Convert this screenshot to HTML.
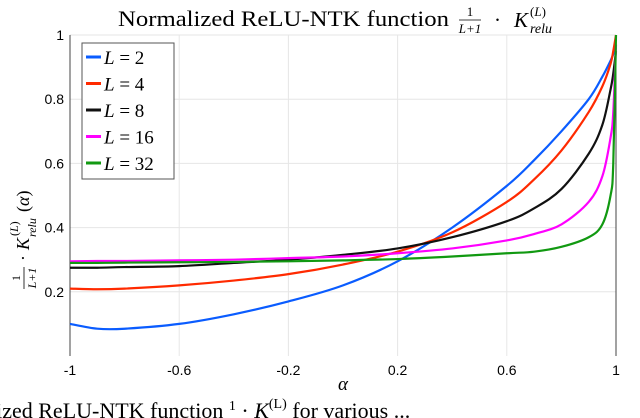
<!DOCTYPE html>
<html><head><meta charset="utf-8"><style>
body{margin:0;background:#fff;width:640px;height:418px;overflow:hidden}
svg{display:block;font-family:"Liberation Serif",serif}
</style></head><body>
<svg width="640" height="418" viewBox="0 0 640 418">
<text x="118" y="26" font-size="22" textLength="331" lengthAdjust="spacingAndGlyphs">Normalized ReLU-NTK function</text>
<g font-size="21">
<text x="470" y="16" text-anchor="middle" font-size="13">1</text>
<line x1="459" x2="481" y1="20" y2="20" stroke="#000" stroke-width="0.8"/>
<text x="470" y="33" text-anchor="middle" font-size="13" font-style="italic">L+1</text>
<text x="494" y="27">·</text>
<text x="514" y="27" font-style="italic">K</text>
<text x="530" y="16" font-size="13">(<tspan font-style="italic">L</tspan>)</text>
<text x="530" y="33" font-size="14" font-style="italic">relu</text>
</g>
<g id="grid"></g>
<g id="axes"></g>
<g id="series"></g>
<g id="legend"></g>
<text x="343" y="390" text-anchor="middle" font-size="19" font-style="italic">α</text>
<g transform="translate(24,196) rotate(-90)" font-size="18">
<text x="-82" y="-4" text-anchor="middle" font-size="12">1</text>
<line x1="-93" x2="-71" y1="0" y2="0" stroke="#000" stroke-width="0.8"/>
<text x="-82" y="12" text-anchor="middle" font-size="12" font-style="italic">L+1</text>
<text x="-65" y="5">·</text>
<text x="-54" y="5" font-style="italic">K</text>
<text x="-40" y="-6" font-size="12">(<tspan font-style="italic">L</tspan>)</text>
<text x="-41" y="12" font-size="12" font-style="italic">relu</text>
<text x="-16" y="5">(<tspan font-style="italic">α</tspan>)</text>
</g>
<text x="-10" y="418" font-size="22">lized ReLU-NTK function <tspan font-size="14" dy="-8">1</tspan><tspan dy="8">  ·  </tspan><tspan font-style="italic">K</tspan><tspan font-size="14" dy="-10">(L)</tspan><tspan dy="10">  for various ... </tspan></text>
</svg>
<script>
const alphas=[-1,-0.9,-0.8,-0.6,-0.4,-0.2,0,0.2,0.4,0.6,0.7,0.8,0.9,0.95,0.98,0.99,1];
const seriesL2=[0.10,0.085,0.085,0.10,0.13,0.17,0.22,0.295,0.40,0.53,0.61,0.70,0.80,0.87,0.92,0.94,0.96];
const seriesL4=[0.21,0.208,0.21,0.22,0.235,0.255,0.285,0.325,0.385,0.48,0.55,0.64,0.76,0.84,0.91,0.95,1.0];
const seriesL8=[0.275,0.275,0.277,0.28,0.29,0.30,0.315,0.335,0.37,0.42,0.46,0.52,0.63,0.72,0.83,0.88,0.95];
const seriesL16=[0.295,0.296,0.296,0.298,0.30,0.305,0.31,0.32,0.335,0.36,0.38,0.41,0.48,0.56,0.68,0.76,0.97];
const seriesL32=[0.29,0.29,0.291,0.292,0.293,0.295,0.298,0.302,0.31,0.32,0.325,0.34,0.37,0.41,0.50,0.60,1.0];
const seriesNames=["L = 2","L = 4","L = 8","L = 16","L = 32"];
const seriesColors=["#0a5cff","#ff2a00","#111111","#ff00ff","#119911"];
const xTicks=[-1,-0.6,-0.2,0.2,0.6,1];
const xTickLabels=["-1","-0.6","-0.2","0.2","0.6","1"];
const yTicks=[0.2,0.4,0.6,0.8,1];
const yTickLabels=["0.2","0.4","0.6","0.8","1"];
const NS="http://www.w3.org/2000/svg";
const X0=70,X1=616,Y0=356,Y1=35;
const xs=v=>X0+(v+1)/2*(X1-X0);
const ys=v=>Y0-v*(Y0-Y1);
function mk(t,a,p){const e=document.createElementNS(NS,t);for(const k in a)e.setAttribute(k,a[k]);p.appendChild(e);return e;}
const grid=document.getElementById('grid'),axes=document.getElementById('axes'),ser=document.getElementById('series'),leg=document.getElementById('legend');
xTicks.forEach((v,i)=>{
 const g=mk('line',{x1:xs(v),x2:xs(v),y1:Y1,y2:Y0,stroke:'#e6e6e6','stroke-width':1},grid);
 
 
 const t=mk('text',{x:xs(v),y:Y0+19,'text-anchor':'middle','font-size':14,'font-family':'Liberation Sans, sans-serif'},axes);
 t.textContent=xTickLabels[i];
 
 
});
yTicks.forEach((v,i)=>{
 const g=mk('line',{x1:X0,x2:X1,y1:ys(v),y2:ys(v),stroke:'#e6e6e6','stroke-width':1},grid);
 
 
 const t=mk('text',{x:X0-6,y:ys(v)+5,'text-anchor':'end','font-size':14,'font-family':'Liberation Sans, sans-serif'},axes);
 t.textContent=yTickLabels[i];
 
 
});
const ax1=mk('line',{x1:X0,x2:X0,y1:Y1,y2:Y0,stroke:'#444','stroke-width':1},axes);


const ax2=mk('line',{x1:X1,x2:X1,y1:Y1,y2:Y0,stroke:'#444','stroke-width':1},axes);


function pathFor(vals){
 const p=alphas.map((a,i)=>[xs(a),ys(vals[i])]);
 let d='M'+p[0][0]+','+p[0][1];
 for(let i=0;i<p.length-1;i++){
  const p0=p[i-1]||p[i],p1=p[i],p2=p[i+1],p3=p[i+2]||p[i+1];
  const c1=[p1[0]+(p2[0]-p0[0])/6,p1[1]+(p2[1]-p0[1])/6];
  const c2=[p2[0]-(p3[0]-p1[0])/6,p2[1]-(p3[1]-p1[1])/6];
  d+=` C${c1[0]},${c1[1]} ${c2[0]},${c2[1]} ${p2[0]},${p2[1]}`;
 }
 return d;
}
const allSeries=[seriesL2,seriesL4,seriesL8,seriesL16,seriesL32];
allSeries.forEach((vals,i)=>{
 const e=mk('path',{d:pathFor(vals),fill:'none',stroke:seriesColors[i],'stroke-width':2.2},ser);
 
 
});
const box=mk('rect',{x:82,y:43,width:92,height:136,fill:'#fff',stroke:'#555','stroke-width':1},leg);


seriesNames.forEach((n,i)=>{
 const y=57+i*26.5;
 const l=mk('line',{x1:86,x2:101,y1:y,y2:y,stroke:seriesColors[i],'stroke-width':3},leg);
 
 
 const t=mk('text',{x:104,y:y+7,'font-size':19},leg);
 t.innerHTML='<tspan font-style="italic">L</tspan> = '+n.split('= ')[1];
 
 
});
</script>
</body></html>
